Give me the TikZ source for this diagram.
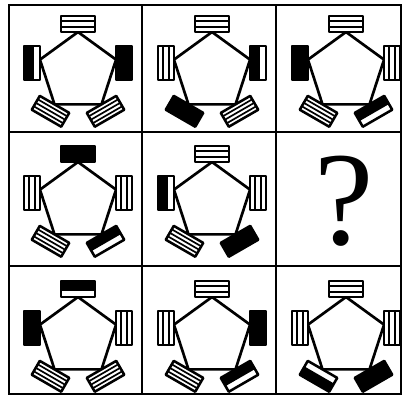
\documentclass[tikz,border=0pt]{standalone}
\usepackage{fontspec}
\newfontfamily\qfont{Liberation Serif}

\tikzset{
	barbox/.style={line width=1.8pt, line join=round},
	barline/.style={line width=1.2pt},
	pics/S/.style={code={
		\fill[white] (-17,-8) rectangle (17,8);
		\foreach \yy in {#1} \draw[barline] (-17,\yy) -- (17,\yy);
		\draw[barbox] (-17,-8) rectangle (17,8);
	}},
	pics/B/.style={code={
		\filldraw[barbox] (-17,-8) rectangle (17,8);
	}},
	pics/O/.style={code={
		\fill[white] (-17,-8) rectangle (17,8);
		\fill (-17,-1.5) rectangle (17,8);
		\draw[barbox] (-17,-8) rectangle (17,8);
	}},
	pics/I/.style={code={
		\fill[white] (-17,-8) rectangle (17,8);
		\fill (-17,-8) rectangle (17,1.5);
		\draw[barbox] (-17,-8) rectangle (17,8);
	}}
}

% one cell: centre, then the bars at top, left, right, bottom left, bottom right
\newcommand{\pentcell}[7]{%
	\begin{scope}[shift={(#1,#2)}]
		\coordinate (t) at (90:40);
		\coordinate (l) at (162:40);
		\coordinate (bl) at (234:40);
		\coordinate (br) at (306:40);
		\coordinate (r) at (18:40);
		\draw[pentline] (t) -- (l) -- (bl) -- (br) -- (r) -- cycle;
		\pic at (0,48) {#3={-2.7,2.7}};
		\pic[rotate=90] at (-46,9) {#4={-2.7,2.7}};
		\pic[rotate=-90] at (46,9) {#5={-2.7,2.7}};
		\pic[rotate=150] at (-27.5,-39.3) {#6={-4,0,4}};
		\pic[rotate=210] at (27.5,-39.3) {#7={-4,0,4}};
	\end{scope}}

\begin{document}
\begin{tikzpicture}[x=0.025cm, y=0.025cm, grid/.style={line width=1.6pt}, pentline/.style={line width=1.9pt, line join=round}]

	\useasboundingbox (0,0) rectangle (405,400);

	\draw[grid] (9,6) rectangle (401,395);
	\draw[grid] (142,6) -- (142,395);
	\draw[grid] (276,6) -- (276,395);
	\draw[grid] (9,268) -- (401,268);
	\draw[grid] (9,134) -- (401,134);

	\pentcell{78}{328}{S}{O}{B}{S}{S}
	\pentcell{212}{328}{S}{S}{I}{B}{S}
	\pentcell{346}{328}{S}{B}{S}{S}{I}

	\pentcell{78}{198}{B}{S}{S}{S}{I}
	\pentcell{212}{198}{S}{O}{S}{S}{B}

	\pentcell{78}{63}{O}{B}{S}{S}{S}
	\pentcell{212}{63}{S}{S}{B}{S}{I}
	\pentcell{346}{63}{S}{S}{S}{O}{B}

	\node[inner sep=0pt] (qmark) at (344,199) {\qfont\fontsize{95}{95}\selectfont ?};

\end{tikzpicture}
\end{document}
